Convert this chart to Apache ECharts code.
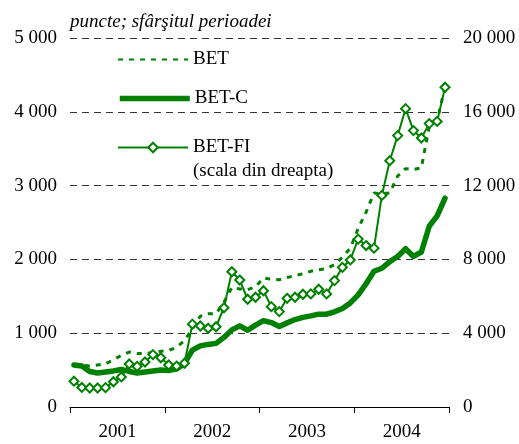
<!DOCTYPE html>
<html>
<head>
<meta charset="utf-8">
<script src="https://cdn.jsdelivr.net/npm/echarts@6/dist/echarts.min.js"></script>
<style>
html,body{margin:0;padding:0;background:#fff;}
#chart{width:519px;height:444px;}
</style>
</head>
<body>
<div id="chart"></div>
<script>
// ---- data ----
const years = ['2001', '2002', '2003', '2004'];
const monthsPerYear = 12;
const months = [];
years.forEach(y => { for (let m = 1; m <= monthsPerYear; m++) months.push(y + '-' + (m < 10 ? '0' + m : m)); });

// BET (left scale, points)
const betValues = [
  580, 565, 555, 570, 585, 640, 700, 745, 725, 725, 740, 755,
  765, 810, 900, 1060, 1230, 1262, 1265, 1420, 1620, 1600, 1590, 1630,
  1750, 1730, 1725, 1755, 1780, 1805, 1840, 1860, 1875, 1930, 2030, 2150,
  2420, 2640, 2900, 2890, 2900, 3130, 3230, 3220, 3240, 3800, 3880, 4340
];
// BET-C (left scale, points)
const betcValues = [
  570, 556, 482, 461, 475, 489, 509, 482, 461, 475, 489, 502,
  495, 516, 590, 770, 828, 848, 862, 943, 1045, 1099, 1040, 1110,
  1170, 1144, 1092, 1140, 1185, 1215, 1235, 1258, 1258, 1290, 1335, 1410,
  1520, 1670, 1840, 1880, 1970, 2040, 2145, 2040, 2100, 2450, 2590, 2830
];
// BET-FI (right scale, points)
const betfiValues = [
  1400, 1060, 1030, 1030, 1050, 1370, 1630, 2330, 2200, 2440, 2840, 2670,
  2280, 2220, 2370, 4490, 4390, 4270, 4350, 5380, 7330, 6880, 5840, 5950,
  6300, 5440, 5170, 5890, 5950, 6110, 6130, 6380, 6130, 6850, 7570, 7970,
  9100, 8750, 8610, 11470, 13350, 14710, 16170, 14980, 14580, 15360, 15480, 17330
];
const leftTicks = { min: 0, max: 5000, interval: 1000 };
const rightTicks = { min: 0, max: 20000, interval: 4000 };
const subtitle = 'puncte; sfârşitul perioadei';
const fiNote = '(scala din dreapta)';

// ---- chart ----
const green = '#008000';
const serif = 'Liberation Serif';
const fs = 19;
const fmt = v => String(v).replace(/\B(?=(\d{3})+(?!\d))/g, ' ');
const legendText = { color: '#000', fontFamily: serif, fontSize: fs };

const chart = echarts.init(document.getElementById('chart'), null, { renderer: 'canvas' });
chart.setOption({
  animation: false,
  backgroundColor: '#fff',
  textStyle: { fontFamily: serif },
  grid: { left: 70, right: 70, top: 38, bottom: 37, containLabel: false },
  xAxis: [
    { type: 'category', data: months, show: false, boundaryGap: true },
    {
      type: 'category', data: years, position: 'bottom', boundaryGap: true,
      axisLine: { show: true, lineStyle: { color: '#000', width: 1 } },
      axisTick: { show: true, length: 6, inside: false, lineStyle: { color: '#000' } },
      axisLabel: { color: '#000', fontFamily: serif, fontSize: fs, margin: 16 },
      splitLine: { show: false }
    }
  ],
  yAxis: [
    {
      type: 'value', min: leftTicks.min, max: leftTicks.max, interval: leftTicks.interval,
      axisLine: { show: false }, axisTick: { show: false },
      axisLabel: { color: '#000', fontFamily: serif, fontSize: fs, margin: 13, formatter: fmt },
      splitLine: { show: true, lineStyle: { color: '#333', type: [7, 5], width: 1 } }
    },
    {
      type: 'value', min: rightTicks.min, max: rightTicks.max, interval: rightTicks.interval,
      position: 'right',
      axisLine: { show: false }, axisTick: { show: false },
      axisLabel: { color: '#000', fontFamily: serif, fontSize: fs, margin: 14, formatter: fmt },
      splitLine: { show: false }
    }
  ],
  legend: [
    {
      data: ['BET'], left: 112, top: 45, orient: 'vertical',
      itemWidth: 70, itemHeight: 12, itemGap: 0,
      itemStyle: { opacity: 0 },
      textStyle: legendText
    },
    {
      data: ['BET-C'], left: 112, top: 84, orient: 'vertical',
      itemWidth: 70, itemHeight: 12, itemGap: 0,
      itemStyle: { opacity: 0 },
      lineStyle: { width: 5.5, cap: 'butt' },
      textStyle: legendText
    },
    {
      data: ['BET-FI'], left: 112, top: 133, orient: 'vertical',
      itemWidth: 70, itemHeight: 12, itemGap: 0,
      textStyle: legendText
    }
  ],
  graphic: [
    {
      type: 'text', left: 70, top: 12,
      style: { text: subtitle, fill: '#000', fontFamily: serif, fontSize: fs, fontStyle: 'italic' }
    },
    {
      type: 'text', left: 193, top: 162,
      style: { text: fiNote, fill: '#000', fontFamily: serif, fontSize: fs }
    }
  ],
  series: [
    {
      name: 'BET', type: 'line', xAxisIndex: 0, yAxisIndex: 0, data: betValues,
      symbol: 'none', smooth: false, z: 2,
      lineStyle: { color: green, width: 3, type: [5, 6] },
      itemStyle: { color: green }
    },
    {
      name: 'BET-C', type: 'line', xAxisIndex: 0, yAxisIndex: 0, data: betcValues,
      symbol: 'none', smooth: false, z: 3,
      lineStyle: { color: green, width: 5.5, cap: 'round', join: 'round' },
      itemStyle: { color: green }
    },
    {
      name: 'BET-FI', type: 'line', xAxisIndex: 0, yAxisIndex: 1, data: betfiValues,
      symbol: 'emptyDiamond', symbolSize: 9, showSymbol: true, showAllSymbol: true, smooth: false, z: 4,
      lineStyle: { color: green, width: 2 },
      itemStyle: { color: green, borderColor: green, borderWidth: 2 }
    }
  ]
});
</script>
</body>
</html>
